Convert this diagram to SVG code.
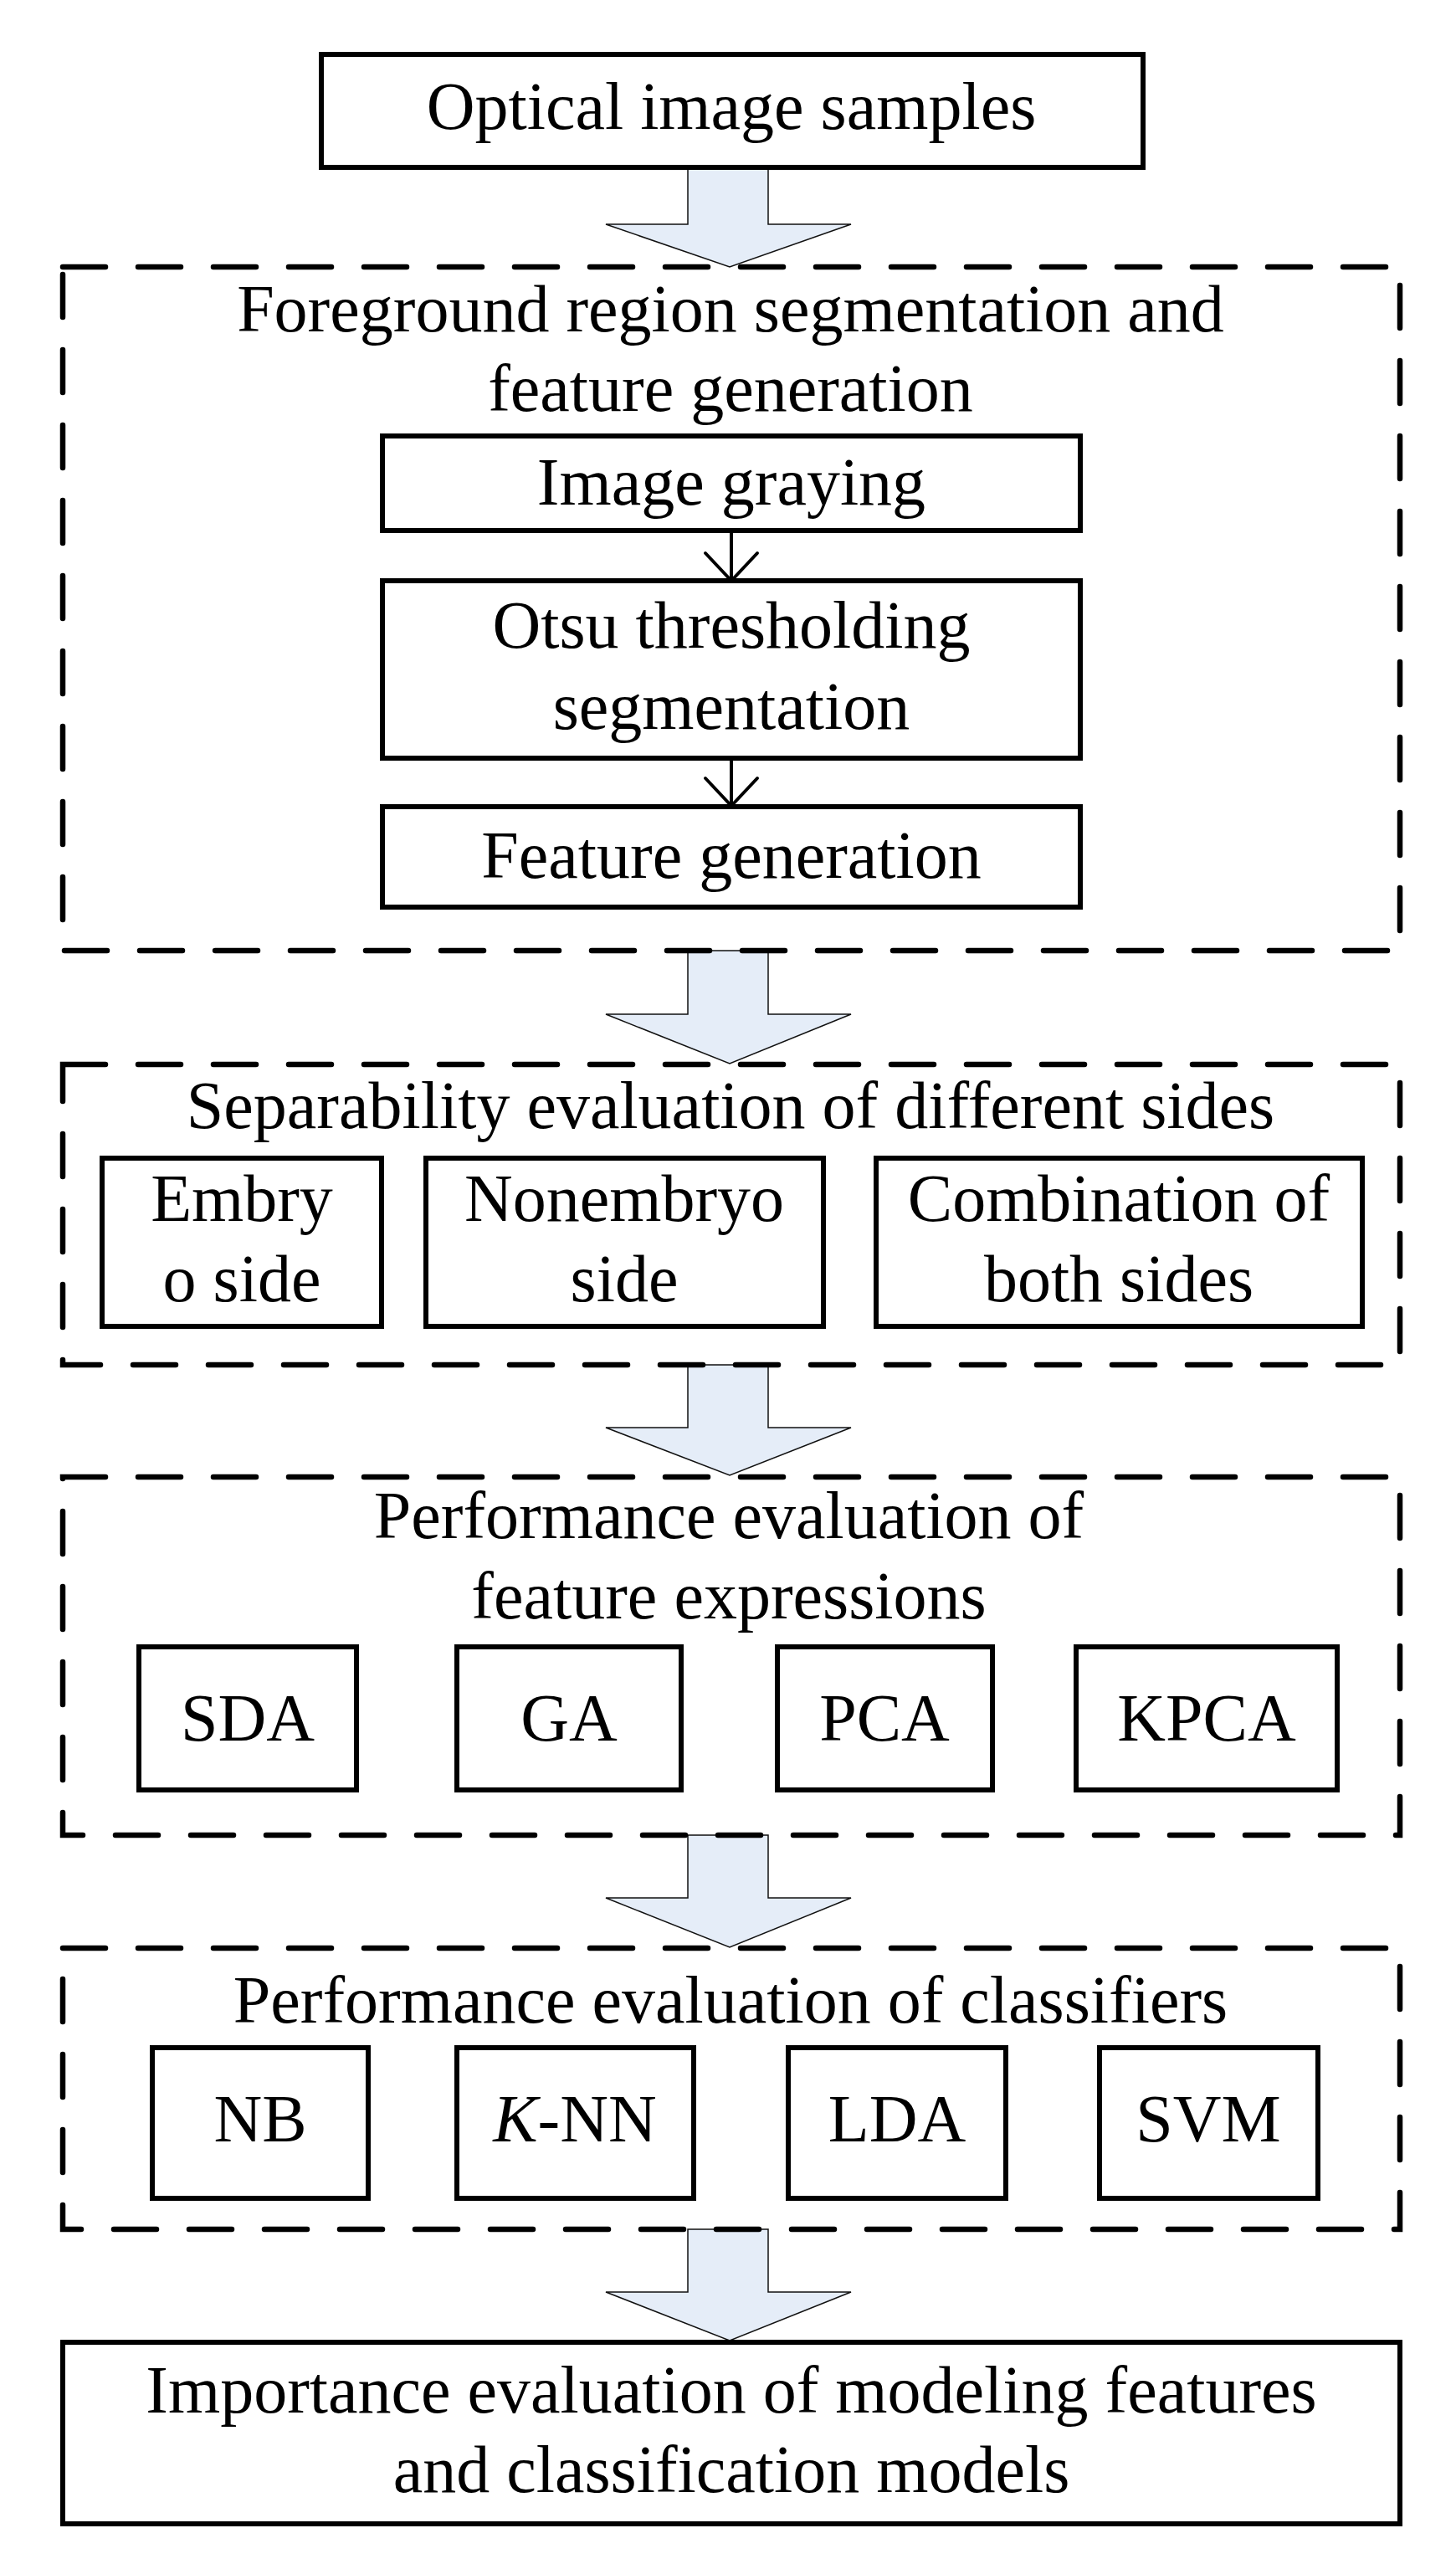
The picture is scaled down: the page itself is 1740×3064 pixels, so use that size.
<svg xmlns="http://www.w3.org/2000/svg" width="1740" height="3064" viewBox="0 0 1740 3064">
<style>
.box{fill:#fff;stroke:#000;stroke-width:6}
.dash{fill:none;stroke:#000;stroke-width:6.5;stroke-dasharray:51 39;stroke-linecap:round}
.t{font-family:"Liberation Serif","Times New Roman",serif;font-size:80px;fill:#000;text-anchor:middle}
.blk{fill:#E5EDF8;stroke:#111;stroke-width:1.5}
.ln{fill:none;stroke:#000;stroke-width:4;stroke-linecap:round;stroke-linejoin:round}
</style>
<rect width="1740" height="3064" fill="#fff"/>
<g id="connectors">
<polygon class="blk" points="822,200 918,200 918,268 1017,268 872,319 724,268 822,268"/>
<polygon class="blk" points="822,1136 918,1136 918,1212 1017,1212 872,1271 724,1212 822,1212"/>
<polygon class="blk" points="822,1631 918,1631 918,1706 1017,1706 872,1763 724,1706 822,1706"/>
<polygon class="blk" points="822,2193 918,2193 918,2268 1017,2268 872,2327 724,2268 822,2268"/>
<polygon class="blk" points="822,2664 918,2664 918,2739 1017,2739 872,2797 724,2739 822,2739"/>
<path class="ln" d="M874,634 V694 M843,661 L874,694 L905,661"/>
<path class="ln" d="M874,906 V963 M843,930 L874,963 L905,930"/>
</g>
<g id="n_optical">
<rect class="box" x="384" y="65" width="982" height="135"/>
<text class="t" x="874" y="154">Optical image samples</text>
</g>
<g id="g_foreground">
<rect class="dash" x="75" y="319" width="1598" height="817"/>
<text class="t" x="873" y="396">Foreground region segmentation and</text>
<text class="t" x="873" y="491">feature generation</text>
</g>
<g id="n_graying">
<rect class="box" x="457" y="521" width="834" height="113"/>
<text class="t" x="874" y="603">Image graying</text>
</g>
<g id="n_otsu">
<rect class="box" x="457" y="694" width="834" height="212"/>
<text class="t" x="874" y="774">Otsu thresholding</text>
<text class="t" x="874" y="871">segmentation</text>
</g>
<g id="n_featgen">
<rect class="box" x="457" y="964" width="834" height="120"/>
<text class="t" x="874" y="1049">Feature generation</text>
</g>
<g id="g_separability">
<rect class="dash" x="75" y="1272" width="1598" height="359"/>
<text class="t" x="873" y="1348">Separability evaluation of different sides</text>
</g>
<g id="n_embryo">
<rect class="box" x="122" y="1384" width="334" height="201"/>
<text class="t" x="289" y="1459">Embry</text>
<text class="t" x="289" y="1555">o side</text>
</g>
<g id="n_nonembryo">
<rect class="box" x="509" y="1384" width="475" height="201"/>
<text class="t" x="746" y="1459">Nonembryo</text>
<text class="t" x="746" y="1555">side</text>
</g>
<g id="n_combination">
<rect class="box" x="1047" y="1384" width="581" height="201"/>
<text class="t" x="1337" y="1459">Combination of</text>
<text class="t" x="1337" y="1555">both sides</text>
</g>
<g id="g_featexpr">
<rect class="dash" x="75" y="1765" width="1598" height="428"/>
<text class="t" x="871" y="1838">Performance evaluation of</text>
<text class="t" x="871" y="1934">feature expressions</text>
</g>
<g id="n_sda">
<rect class="box" x="166" y="1968" width="260" height="171"/>
<text class="t" x="296" y="2080">SDA</text>
</g>
<g id="n_ga">
<rect class="box" x="546" y="1968" width="268" height="171"/>
<text class="t" x="680" y="2080">GA</text>
</g>
<g id="n_pca">
<rect class="box" x="929" y="1968" width="257" height="171"/>
<text class="t" x="1057" y="2080">PCA</text>
</g>
<g id="n_kpca">
<rect class="box" x="1286" y="1968" width="312" height="171"/>
<text class="t" x="1442" y="2080">KPCA</text>
</g>
<g id="g_classifiers">
<rect class="dash" x="75" y="2328" width="1598" height="336"/>
<text class="t" x="873" y="2417">Performance evaluation of classifiers</text>
</g>
<g id="n_nb">
<rect class="box" x="182" y="2447" width="258" height="180"/>
<text class="t" x="311" y="2559">NB</text>
</g>
<g id="n_knn">
<rect class="box" x="546" y="2447" width="283" height="180"/>
<text class="t" x="687" y="2559"><tspan font-style="italic">K</tspan>-NN</text>
</g>
<g id="n_lda">
<rect class="box" x="942" y="2447" width="260" height="180"/>
<text class="t" x="1072" y="2559">LDA</text>
</g>
<g id="n_svm">
<rect class="box" x="1314" y="2447" width="261" height="180"/>
<text class="t" x="1444" y="2559">SVM</text>
</g>
<g id="n_importance">
<rect class="box" x="75" y="2799" width="1598" height="217"/>
<text class="t" x="874" y="2883">Importance evaluation of modeling features</text>
<text class="t" x="874" y="2978">and classification models</text>
</g>
</svg>
